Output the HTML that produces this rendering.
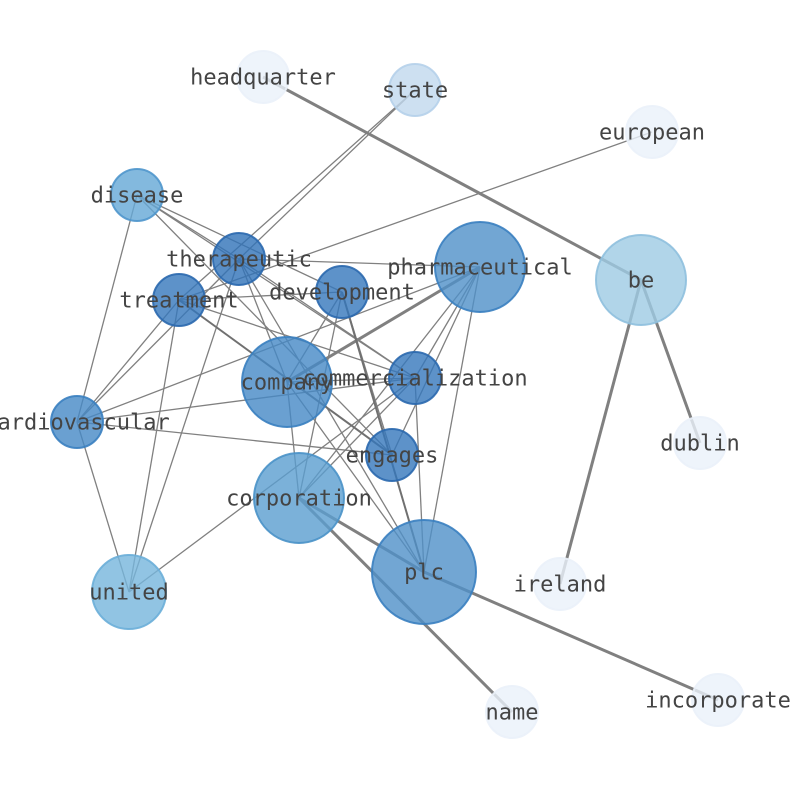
<!DOCTYPE html>
<html><head><style>html,body{margin:0;padding:0;background:#fff}svg{display:block}</style></head><body>
<svg width="794" height="790" viewBox="0 0 794 790" xmlns="http://www.w3.org/2000/svg">
<g stroke="#808080" stroke-width="1.3" fill="none">
<line x1="415" y1="90" x2="239" y2="259"/>
<line x1="415" y1="90" x2="179" y2="300"/>
<line x1="652" y1="132" x2="179" y2="300"/>
<line x1="137" y1="195" x2="239" y2="259"/>
<line x1="137" y1="195" x2="342" y2="292"/>
<line x1="137" y1="195" x2="415" y2="378"/>
<line x1="137" y1="195" x2="77" y2="422"/>
<line x1="137" y1="195" x2="392" y2="455"/>
<line x1="239" y1="259" x2="480" y2="267"/>
<line x1="239" y1="259" x2="424" y2="572"/>
<line x1="239" y1="259" x2="415" y2="378"/>
<line x1="239" y1="259" x2="77" y2="422"/>
<line x1="239" y1="259" x2="287" y2="382"/>
<line x1="239" y1="259" x2="129" y2="592"/>
<line x1="179" y1="300" x2="342" y2="292"/>
<line x1="179" y1="300" x2="129" y2="592"/>
<line x1="179" y1="300" x2="77" y2="422"/>
<line x1="179" y1="300" x2="415" y2="378"/>
<line x1="342" y1="292" x2="287" y2="382"/>
<line x1="342" y1="292" x2="299" y2="498"/>
<line x1="342" y1="292" x2="392" y2="455"/>
<line x1="480" y1="267" x2="77" y2="422"/>
<line x1="480" y1="267" x2="415" y2="378"/>
<line x1="480" y1="267" x2="392" y2="455"/>
<line x1="480" y1="267" x2="424" y2="572"/>
<line x1="480" y1="267" x2="299" y2="498"/>
<line x1="287" y1="382" x2="415" y2="378"/>
<line x1="287" y1="382" x2="424" y2="572"/>
<line x1="287" y1="382" x2="299" y2="498"/>
<line x1="77" y1="422" x2="415" y2="378"/>
<line x1="77" y1="422" x2="392" y2="455"/>
<line x1="77" y1="422" x2="129" y2="592"/>
<line x1="415" y1="378" x2="424" y2="572"/>
<line x1="415" y1="378" x2="129" y2="592"/>
<line x1="415" y1="378" x2="299" y2="498"/>
</g>
<g stroke="#808080" stroke-width="3" fill="none">
<line x1="263" y1="77" x2="641" y2="280"/>
<line x1="641" y1="280" x2="700" y2="443"/>
<line x1="641" y1="280" x2="560" y2="584"/>
<line x1="299" y1="498" x2="512" y2="712"/>
<line x1="299" y1="498" x2="424" y2="572"/>
<line x1="424" y1="572" x2="718" y2="700"/>
<line x1="287" y1="382" x2="480" y2="267"/>
</g>
<g stroke="#707070" stroke-width="2" fill="none">
<line x1="179" y1="300" x2="392" y2="455"/>
<line x1="342" y1="292" x2="424" y2="572"/>
</g>
<g stroke-width="2" fill-opacity="0.8" stroke-opacity="0.9">
<circle cx="263" cy="77" r="26" fill="#eaf1fa" stroke="#eaf1fa"/>
<circle cx="415" cy="90" r="26" fill="#c0d8ee" stroke="#b5d0ea"/>
<circle cx="652" cy="132" r="26" fill="#eaf1fa" stroke="#eaf1fa"/>
<circle cx="137" cy="195" r="26" fill="#64a8d6" stroke="#4f96cc"/>
<circle cx="239" cy="259" r="26" fill="#2f72b8" stroke="#2a68ae"/>
<circle cx="179" cy="300" r="26" fill="#3577bb" stroke="#2a68ae"/>
<circle cx="342" cy="292" r="26" fill="#3577bb" stroke="#2a68ae"/>
<circle cx="480" cy="267" r="45" fill="#4f90c8" stroke="#3a80c0"/>
<circle cx="641" cy="280" r="45" fill="#9dcae3" stroke="#8fc0de"/>
<circle cx="287" cy="382" r="45" fill="#4588c6" stroke="#3a80c0"/>
<circle cx="415" cy="378" r="26" fill="#3577bb" stroke="#2a68ae"/>
<circle cx="77" cy="422" r="26" fill="#4588c6" stroke="#3a80c0"/>
<circle cx="700" cy="443" r="26" fill="#eaf1fa" stroke="#eaf1fa"/>
<circle cx="392" cy="455" r="26" fill="#3577bb" stroke="#2a68ae"/>
<circle cx="299" cy="498" r="45" fill="#5a9ed0" stroke="#4a92c8"/>
<circle cx="424" cy="572" r="52" fill="#4f90c8" stroke="#3a80c0"/>
<circle cx="560" cy="584" r="26" fill="#eaf1fa" stroke="#eaf1fa"/>
<circle cx="129" cy="592" r="37" fill="#75b5dc" stroke="#6aaed8"/>
<circle cx="512" cy="712" r="26" fill="#eaf1fa" stroke="#eaf1fa"/>
<circle cx="718" cy="700" r="26" fill="#eaf1fa" stroke="#eaf1fa"/>
</g>
<g font-family="DejaVu Sans Mono, Liberation Mono, monospace" font-size="22" fill="#444" text-anchor="middle" dominant-baseline="central">
<text x="263" y="78">headquarter</text>
<text x="415" y="91">state</text>
<text x="652" y="133">european</text>
<text x="137" y="196">disease</text>
<text x="239" y="260">therapeutic</text>
<text x="179" y="301">treatment</text>
<text x="342" y="293">development</text>
<text x="480" y="268">pharmaceutical</text>
<text x="641" y="281">be</text>
<text x="287" y="383">company</text>
<text x="415" y="379">commercialization</text>
<text x="77" y="423">cardiovascular</text>
<text x="700" y="444">dublin</text>
<text x="392" y="456">engages</text>
<text x="299" y="499">corporation</text>
<text x="424" y="573">plc</text>
<text x="560" y="585">ireland</text>
<text x="129" y="593">united</text>
<text x="512" y="713">name</text>
<text x="718" y="701">incorporate</text>
</g>
</svg>
</body></html>
